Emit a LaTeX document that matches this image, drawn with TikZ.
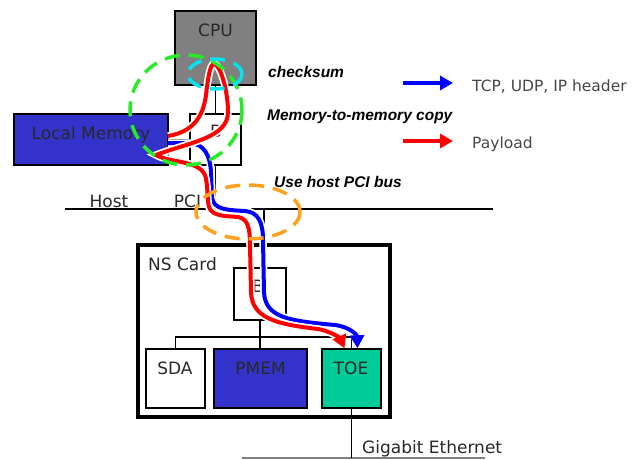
\documentclass[tikz,border=0pt]{standalone}
\usepackage{fontspec}
\setmainfont{DejaVu Sans}
\newfontfamily\notefont{Liberation Sans}
\usetikzlibrary{arrows.meta}
\definecolor{cpugray}{RGB}{128,128,128}
\definecolor{memblue}{RGB}{51,51,204}
\definecolor{toegreen}{RGB}{0,204,153}
\definecolor{ringgreen}{RGB}{40,235,40}
\definecolor{ringcyan}{RGB}{0,230,240}
\definecolor{ringorange}{RGB}{255,160,30}
\definecolor{txtgray}{RGB}{40,40,40}
\definecolor{leggray}{RGB}{70,70,70}

\begin{document}
\begin{tikzpicture}[x=1pt,y=-1pt,
  box/.style={draw=black, line width=1.5pt, inner sep=0pt},
  lbl/.style={anchor=base, inner sep=0pt, text=txtgray, font=\fontsize{17}{20}\selectfont},
  note/.style={anchor=base west, inner sep=0pt, font=\notefont\bfseries\itshape\fontsize{15.5}{18}\selectfont},
  leg/.style={anchor=base west, inner sep=0pt, text=leggray, font=\fontsize{15.5}{18}\selectfont},
  flow/.style={line width=4pt, preaction={draw=white, line width=7.5pt}, -{Triangle[length=13pt,width=14pt]}},
  ring/.style={line width=3.5pt, dash pattern=on 15pt off 9pt}]
  \useasboundingbox (0,0) rectangle (638,459);
  % host
  \node[box, fill=cpugray, minimum width=81, minimum height=74] (cpu) at (215.5,48) {};
  \node[box, fill=white, minimum width=51, minimum height=51] (hb) at (215.5,139.5) {};
  \node[box, fill=memblue, minimum width=154, minimum height=51] (lmem) at (91,139.5) {};
  \coordinate (pciL) at (65,209);
  \coordinate (pciR) at (493,209);
  \draw[line width=1.5pt] (pciL) -- (pciR);
  \draw[line width=1.5pt] (cpu.south) -- (hb.north);
  \draw[line width=1.5pt] (lmem.east) -- (hb.west);
  \draw[line width=1.5pt] (hb.south) -- (hb.south |- pciL);
  \node[lbl] (cpu-l) at (215.5,36) {CPU};
  \node[lbl] (lmem-l) at (91,139) {Local Memory};
  \node[lbl] (hb-l) at (216,137) {B};
  \node[lbl] (host-l) at (109,207) {Host};
  \node[lbl] (pci-l) at (187.5,207) {PCI};
  % NS card
  \node[draw, line width=4pt, minimum width=252, minimum height=172] (card) at (264,331) {};
  \draw[line width=1.5pt] (card.north |- pciL) -- (card.north);
  \node[box, fill=white, minimum width=52, minimum height=52] (nsb) at (260,294) {};
  \node[box, fill=white, minimum width=59, minimum height=59] (sda) at (175.5,378.5) {};
  \node[box, fill=memblue, minimum width=93, minimum height=59] (pmem) at (260.5,378.5) {};
  \node[box, fill=toegreen, minimum width=59, minimum height=59] (toe) at (351.5,378.5) {};
  \coordinate (ibus) at (0,337);
  \draw[line width=1.5pt] (sda.north) -- (sda.north |- ibus) -- (toe.north |- ibus) -- (toe.north);
  \draw[line width=1.5pt] (nsb.south) -- (nsb.south |- pmem.north);
  \coordinate (gbL) at (242,458);
  \coordinate (gbR) at (485,458);
  \draw[gray, line width=1.2pt] (gbL) -- (gbR);
  \draw[line width=1.5pt] (toe.south) -- (toe.south |- gbL);
  \node[lbl, anchor=base west] (card-l) at (148,270) {NS Card};
  \node[lbl] (nsb-l) at (258,292) {B};
  \node[lbl] (sda-l) at (175,374) {SDA};
  \node[lbl] (pmem-l) at (260.5,374) {PMEM};
  \node[lbl] (toe-l) at (351,374) {TOE};
  \node[lbl, anchor=base west] (gbe-l) at (362,453) {Gigabit Ethernet};
  % data paths
  \coordinate (bluein) at (168,143);
  \coordinate (bluetip) at ([xshift=6pt]toe.north);
  \coordinate (redin) at (168,136);
  \coordinate (redtip) at ([xshift=-7pt]toe.north);
  \draw[flow, blue] (bluein) -- (190,143)
    .. controls (204,144) and (210,155) .. (211,172) -- (212,197)
    .. controls (213,210) and (228,210) .. (245,211)
    .. controls (258,212) and (263,222) .. (263,240) -- (264,292)
    .. controls (265,318) and (290,321) .. (335,325)
    .. controls (350,327) and (357,335) .. (bluetip);
  \draw[flow, red] (redin) .. controls (192,132) and (203,118) .. (206,95)
    .. controls (208,78) and (210,64) .. (214,64)
    .. controls (220,64) and (228,90) .. (228,112)
    .. controls (228,138) and (190,142) .. (156,155)
    .. controls (170,163) and (198,160) .. (205,175)
    .. controls (208,183) and (207,200) .. (209,207)
    .. controls (212,217) and (228,216) .. (238,217)
    .. controls (248,219) and (250,228) .. (250,245) -- (251,292)
    .. controls (252,318) and (275,324) .. (318,329)
    .. controls (330,331) and (340,338) .. (redtip);
  % rings
  \draw[ring, ringgreen] (186,110) ellipse (56 and 55);
  \draw[ring, ringcyan] (215,74) ellipse (27 and 15);
  \draw[ring, ringorange] (248,212) ellipse (52 and 27);
  \node[note] (cks-l) at (268,77) {checksum};
  \node[note] (copy-l) at (267,120) {Memory-to-memory copy};
  \node[note] (bus-l) at (274,187) {Use host PCI bus};
  % legend
  \coordinate (legA) at (403,83);
  \coordinate (legB) at (453,83);
  \coordinate (legC) at (403,141);
  \coordinate (legD) at (453,141);
  \draw[flow, blue] (legA) -- (legB);
  \draw[flow, red] (legC) -- (legD);
  \node[leg] (hdr-l) at (472,91) {TCP, UDP, IP header};
  \node[leg] (pay-l) at (472,148) {Payload};
\end{tikzpicture}
\end{document}
